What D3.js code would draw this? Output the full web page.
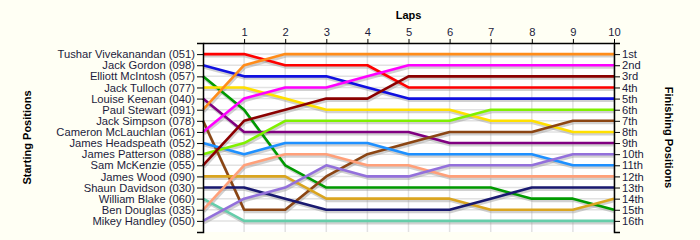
<!DOCTYPE html>
<html><head><meta charset="utf-8">
<script src="https://cdn.jsdelivr.net/npm/d3@7"></script>
<style>
body{margin:0;background:#FFFFF4;}
svg{display:block;}
text{font-family:"Liberation Sans",Arial,sans-serif;}
</style></head>
<body><svg id="c" width="700" height="240"></svg>
<script>
const drivers = ["Tushar Vivekanandan (051)","Jack Gordon (098)","Elliott McIntosh (057)","Jack Tulloch (077)","Louise Keenan (040)","Paul Stewart (091)","Jack Simpson (078)","Cameron McLauchlan (061)","James Headspeath (052)","James Patterson (088)","Sam McKenzie (055)","James Wood (090)","Shaun Davidson (030)","William Blake (060)","Ben Douglas (035)","Mikey Handley (050)"];
const laps = [0,1,2,3,4,5,6,7,8,9,10];
const lapLabels = ["","1","2","3","4","5","6","7","8","9","10"];
const finishLabels = ["1st","2nd","3rd","4th","5th","6th","7th","8th","9th","10th","11th","12th","13th","14th","15th","16th"];
const positions = [
  [1,1,2,2,2,4,4,4,4,4,4],
  [2,3,3,3,4,5,5,5,5,5,5],
  [3,6,11,13,13,13,13,13,14,14,15],
  [4,4,5,6,6,6,6,7,7,8,8],
  [5,8,8,8,8,8,9,9,9,9,9],
  [6,2,1,1,1,1,1,1,1,1,1],
  [7,15,15,12,10,9,8,8,8,7,7],
  [8,5,4,4,3,2,2,2,2,2,2],
  [9,10,9,9,9,10,10,10,10,11,11],
  [10,9,7,7,7,7,7,6,6,6,6],
  [11,7,6,5,5,3,3,3,3,3,3],
  [12,12,12,14,14,14,14,15,15,15,14],
  [13,13,14,15,15,15,15,14,13,13,13],
  [14,16,16,16,16,16,16,16,16,16,16],
  [15,11,10,10,11,11,12,12,12,12,12],
  [16,14,13,11,12,12,11,11,11,10,10]
];
const colors = ["#FF0000","#1010E0","#009A00","#FFE000","#800080","#FF8C1A","#8B4513","#FF00FF","#1E90FF","#80F000","#8B0000","#DAA520","#191970","#66CDAA","#FFA07A","#9370DB"];

const svg = d3.select("#c");
const L = 203, R = 614, T = 43, B = 232;
const x = d3.scaleLinear().domain([0,10]).range([L,R]);
const y = d3.scaleLinear().domain([0,17]).range([T,B]);
const rows = d3.range(1,17);

svg.append("rect").attr("x",L).attr("y",T).attr("width",R-L).attr("height",B-T).attr("fill","#FFFFFF");

// grid
svg.append("g").selectAll("line").data(laps.slice(1)).join("line")
  .attr("x1",d=>x(d)).attr("x2",d=>x(d)).attr("y1",T).attr("y2",B)
  .attr("stroke","#E2E2E2").attr("stroke-width",1.5);
svg.append("g").selectAll("line").data(rows).join("line")
  .attr("x1",L).attr("x2",R).attr("y1",d=>y(d)).attr("y2",d=>y(d))
  .attr("stroke","#E2E2E2").attr("stroke-width",1.5);

const line = d3.line().x((d,i)=>x(laps[i])).y(d=>y(d));

// shadows
svg.append("g").attr("transform","translate(1,2)").selectAll("path").data(positions).join("path")
  .attr("d",line).attr("fill","none").attr("stroke","#999").attr("stroke-opacity",0.45)
  .attr("stroke-width",3).attr("stroke-linejoin","round");
svg.append("g").selectAll("path").data(positions).join("path")
  .attr("d",line).attr("fill","none").attr("stroke",(d,i)=>colors[i])
  .attr("stroke-width",2.6).attr("stroke-linejoin","round");

// axes
const textCol = "#1c1c3c";
const leftAxis = d3.axisLeft(y).tickValues(rows).tickFormat(d=>drivers[d-1]).tickSize(6).tickPadding(2);
const gl = svg.append("g").attr("transform",`translate(${L},0)`).call(leftAxis);
const rightAxis = d3.axisRight(y).tickValues(rows).tickFormat(d=>finishLabels[d-1]).tickSize(6).tickPadding(2);
const gr = svg.append("g").attr("transform",`translate(${R},0)`).call(rightAxis);
const topAxis = d3.axisTop(x).tickValues(laps.slice(1)).tickFormat(d=>lapLabels[d]).tickSize(4).tickSizeOuter(0).tickPadding(3);
const gt = svg.append("g").attr("transform",`translate(0,${T})`).call(topAxis);
[gl,gr,gt].forEach(g=>{
  g.selectAll("path.domain").attr("stroke","#000").attr("stroke-width",1.5);
  g.selectAll(".tick line").attr("stroke","#000");
  g.selectAll("text").attr("fill",textCol).style("font-size","11.2px").style("font-family","'Liberation Sans',Arial,sans-serif");
});

// titles
svg.append("text").attr("x",(L+R)/2).attr("y",19).attr("text-anchor","middle")
  .style("font-size","11px").style("font-weight","bold").attr("fill","#000").text("Laps");
svg.append("text").attr("transform",`translate(31,${(T+B)/2}) rotate(-90)`).attr("text-anchor","middle")
  .style("font-size","11px").style("font-weight","bold").attr("fill","#000").text("Starting Positions");
svg.append("text").attr("transform",`translate(665,${(T+B)/2}) rotate(90)`).attr("text-anchor","middle")
  .style("font-size","11px").style("font-weight","bold").attr("fill","#000").text("Finishing Positions");
</script></body></html>
